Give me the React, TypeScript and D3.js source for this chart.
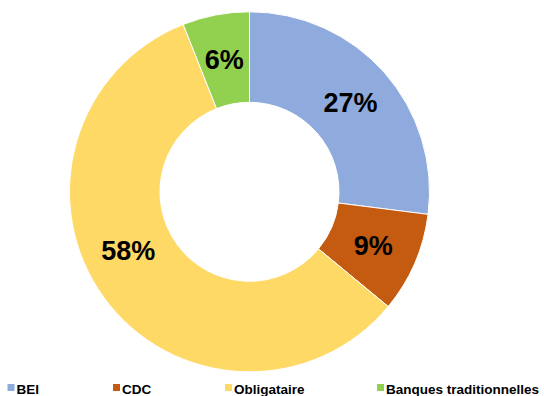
import React from "react";
import * as d3 from "d3";

const categories = ["BEI", "CDC", "Obligataire", "Banques traditionnelles"];
const values = [27, 9, 58, 6];
const labels = ["27%", "9%", "58%", "6%"];
const colors = ["#8FAADC", "#C55A11", "#FFD966", "#92D050"];

export default function App() {
  const W = 544;
  const H = 396;
  const cx = 249.5;
  const cy = 191.8;
  const outerR = 180;
  const innerR = 89.5;
  const legendX = [7.5, 113, 225, 377];
  // angular nudge (radians) of label placement, as in the reference
  const labelShift = [0, 0, (10.2 * Math.PI) / 180, 0];

  const pie = d3.pie<number>().sort(null).value((d) => d)(values);
  const arc = d3.arc<d3.PieArcDatum<number>>().innerRadius(innerR).outerRadius(outerR);
  const labelR = (innerR + outerR) / 2;

  return (
    <svg
      width={W}
      height={H}
      style={{ position: "absolute", left: 0, top: 0, display: "block", background: "#fff" }}
      fontFamily="'Liberation Sans', Arial, sans-serif"
    >
      <g transform={`translate(${cx},${cy})`}>
        {pie.map((p, i) => (
          <path key={i} d={arc(p) || ""} fill={colors[i]} stroke="#fff" strokeWidth={1} />
        ))}
        {pie.map((p, i) => {
          const a = (p.startAngle + p.endAngle) / 2 + labelShift[i];
          const x = labelR * Math.sin(a);
          const y = -labelR * Math.cos(a);
          return (
            <text
              key={i}
              x={x}
              y={y}
              dy="0.36em"
              textAnchor="middle"
              fontWeight="bold"
              fontSize={27}
              fill="#000"
            >
              {labels[i]}
            </text>
          );
        })}
      </g>
      <g>
        {categories.map((c, i) => (
          <g key={c}>
            <rect x={legendX[i]} y={384} width={7} height={7} fill={colors[i]} />
            <text x={legendX[i] + 9} y={393.5} fontSize={13.5} fontWeight="bold" fill="#000">
              {c}
            </text>
          </g>
        ))}
      </g>
    </svg>
  );
}
